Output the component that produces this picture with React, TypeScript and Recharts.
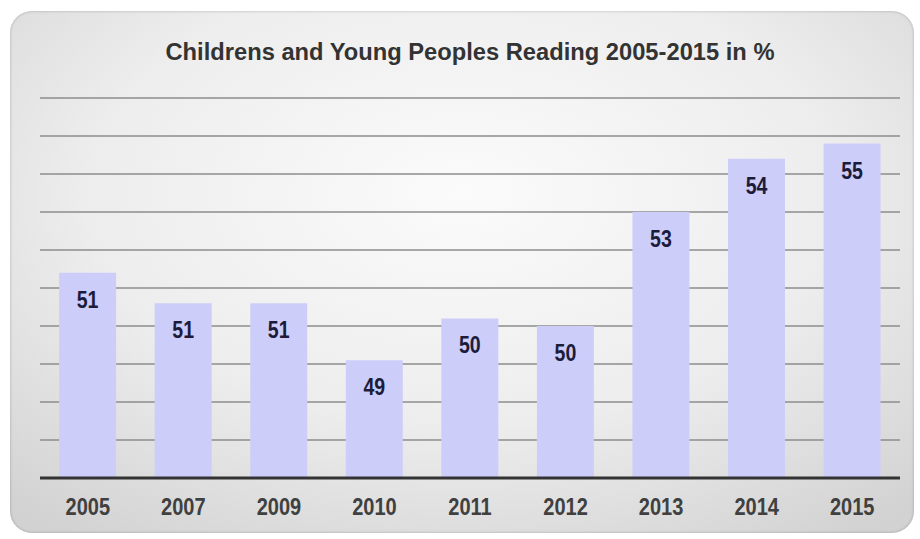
import React from "react";
import { BarChart, Bar, XAxis, YAxis, CartesianGrid, LabelList } from "recharts";

const years = ["2005", "2007", "2009", "2010", "2011", "2012", "2013", "2014", "2015"];
const readingPct = [51.4, 50.6, 50.6, 49.1, 50.2, 50.0, 53.0, 54.4, 54.8];
const labelValues = [51, 51, 51, 49, 50, 50, 53, 54, 55];
const yTicks = [46, 47, 48, 49, 50, 51, 52, 53, 54, 55, 56];
const title = "Childrens and Young Peoples Reading 2005-2015 in %";

const data = years.map((y, i) => ({ year: y, value: readingPct[i], label: labelValues[i] }));

const FONT = "'Liberation Sans', Arial, sans-serif";

const Tick = (props: any) => {
  const { x, y, payload } = props;
  return (
    <g transform={`translate(${x},${y + 29}) scale(0.87,1)`}>
      <text x={0} y={0} textAnchor="middle" fontFamily={FONT} fontWeight="bold" fontSize={23} fill="#404040">
        {payload.value}
      </text>
    </g>
  );
};

const ValueLabel = (props: any) => {
  const { x, y, width, value } = props;
  return (
    <g transform={`translate(${x + width / 2},${y + 35}) scale(0.85,1)`}>
      <text x={0} y={0} textAnchor="middle" fontFamily={FONT} fontWeight="bold" fontSize={23} fill="#1c1c3a">
        {value}
      </text>
    </g>
  );
};

export default function App() {
  return (
    <div style={{ position: "absolute", left: 0, top: 0, width: 920, height: 539, background: "#fff" }}>
      <div
        style={{
          position: "absolute",
          left: 10,
          top: 11,
          width: 904,
          height: 522,
          borderRadius: 22,
          background: "radial-gradient(ellipse 75% 80% at 50% 35%, #fbfbfb 0%, #ededed 55%, #d2d2d2 100%)",
          boxShadow: "inset 0 0 3px rgba(0,0,0,0.25)",
        }}
      />
      <div style={{ position: "absolute", left: 0, top: 0 }}>
        <BarChart
          width={920}
          height={539}
          data={data}
          margin={{ top: 98, right: 20, bottom: 31, left: 40 }}
          barCategoryGap="20%"
        >
          <text
            x={470}
            y={60}
            textAnchor="middle"
            fontFamily={FONT}
            fontWeight="bold"
            fontSize={23}
            fill="#333333"
            textLength={609}
            lengthAdjust="spacingAndGlyphs"
          >
            {title}
          </text>
          <CartesianGrid vertical={false} stroke="#8c8c8c" strokeWidth={1.5} />
          <YAxis hide domain={[46, 56]} ticks={yTicks} allowDataOverflow />
          <XAxis
            dataKey="year"
            height={30}
            axisLine={{ stroke: "#333333", strokeWidth: 3 }}
            tickLine={false}
            tick={<Tick />}
            interval={0}
          />
          <Bar dataKey="value" fill="#cdcdfa" isAnimationActive={false}>
            <LabelList dataKey="label" content={<ValueLabel />} />
          </Bar>
        </BarChart>
      </div>
    </div>
  );
}
